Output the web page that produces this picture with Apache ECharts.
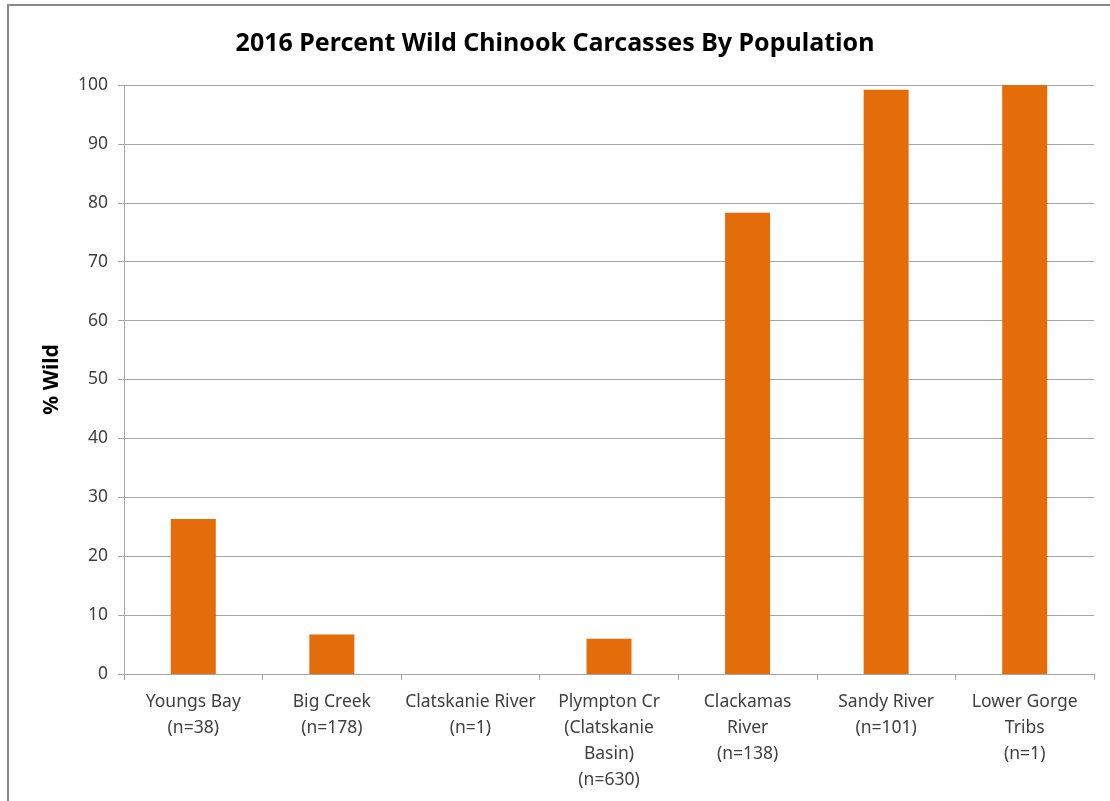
<!DOCTYPE html>
<html>
<head>
<meta charset="utf-8">
<script src="https://cdn.jsdelivr.net/npm/echarts@6/dist/echarts.min.js"></script>
<style>
  html, body { margin: 0; padding: 0; background: #fff; }
  #chart { width: 1110px; height: 801px; }
</style>
</head>
<body>
<div id="chart"></div>
<script>
// population names (with line breaks as in the original axis labels)
const populations = [
  'Youngs Bay',
  'Big Creek',
  'Clatskanie River',
  'Plympton Cr\n(Clatskanie\nBasin)',
  'Clackamas\nRiver',
  'Sandy River',
  'Lower Gorge\nTribs'
];
const sampleSizes = [38, 178, 1, 630, 138, 101, 1];
const percentWild = [26.3, 6.7, 0, 6.0, 78.3, 99.2, 100];

const categories = populations.map((p, i) => p + '\n(n=' + sampleSizes[i] + ')');

const font = '"Noto Sans", sans-serif';

const chart = echarts.init(document.getElementById('chart'));
chart.setOption({
  animation: false,
  backgroundColor: '#fff',
  textStyle: { fontFamily: font },
  title: {
    text: '2016 Percent Wild Chinook Carcasses By Population',
    left: 'center',
    top: 26,
    textStyle: { fontFamily: font, fontSize: 25, fontWeight: 'bold', color: '#000' }
  },
  graphic: [{
    type: 'rect',
    shape: { x: 8, y: 5, width: 1120, height: 820 },
    style: { fill: 'none', stroke: '#8a8a8a', lineWidth: 2 },
    silent: true
  }],
  grid: { left: 124, right: 16, top: 85, bottom: 127 },
  xAxis: {
    type: 'category',
    data: categories,
    axisLine: { lineStyle: { color: '#a6a6a6' } },
    axisTick: { show: true, length: 6, lineStyle: { color: '#a6a6a6' } },
    axisLabel: {
      interval: 0,
      color: '#404040',
      fontSize: 17.5,
      lineHeight: 26,
      margin: 15,
      fontFamily: font
    }
  },
  yAxis: {
    type: 'value',
    min: 0,
    max: 100,
    interval: 10,
    name: '% Wild',
    nameLocation: 'middle',
    nameGap: 61,
    nameTextStyle: { fontFamily: font, fontSize: 21, fontWeight: 'bold', color: '#000' },
    axisLine: { show: true, lineStyle: { color: '#a6a6a6' } },
    axisTick: { show: true, length: 6, lineStyle: { color: '#a6a6a6' } },
    axisLabel: { color: '#404040', fontSize: 17.5, margin: 16, fontFamily: font },
    splitLine: { lineStyle: { color: '#a6a6a6' } }
  },
  series: [{
    type: 'bar',
    data: percentWild,
    barWidth: 45,
    itemStyle: { color: '#e46c0a' }
  }]
});
</script>
</body>
</html>
